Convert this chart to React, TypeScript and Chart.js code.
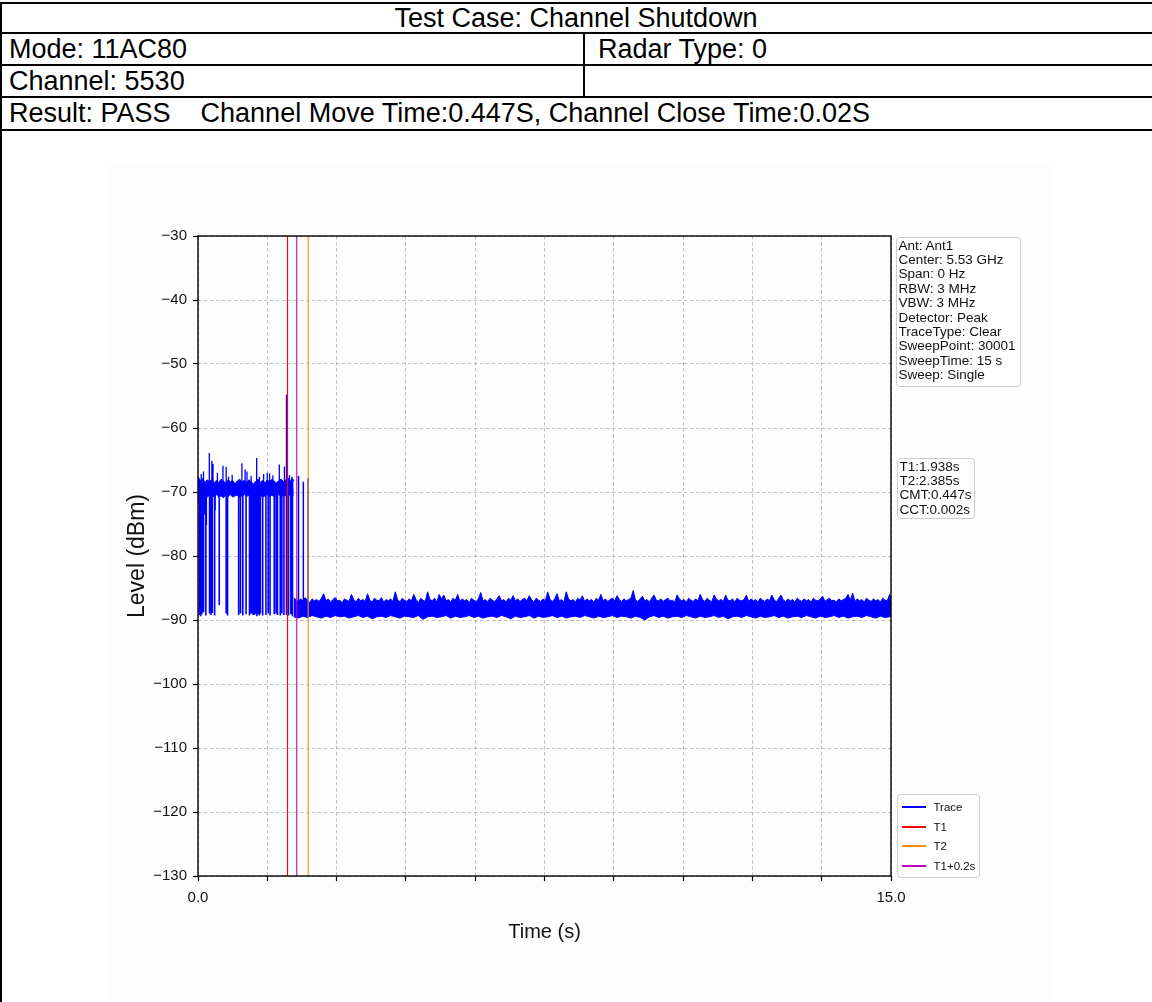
import React, { useEffect, useRef } from 'react';
import { Chart, registerables } from 'chart.js';

Chart.register(...registerables);

// ---------- header table text ----------
const titleText = 'Test Case: Channel Shutdown';
const modeText = 'Mode: 11AC80';
const radarText = 'Radar Type: 0';
const channelText = 'Channel: 5530';
const resultText = 'Result: PASS    Channel Move Time:0.447S, Channel Close Time:0.02S';

// ---------- axes ----------
const X_MIN = 0;
const X_MAX = 15;
const X_STEP = 1.5;
const xLabelled = [0, 15];
const Y_MIN = -130;
const Y_MAX = -30;
const Y_STEP = 10;

// ---------- marker lines ----------
const markerNames = ['T1', 'T2', 'T1+0.2s'];
const markerTimes = [1.938, 2.385, 2.138];
const markerColors = ['#ff0000', '#ff8c00', '#c000c0'];

// ---------- trace: early (transmitting) band 0 .. 2.07 s ----------
const bandTimes = [
  0.0, 0.05, 0.1, 0.15, 0.2, 0.25, 0.3, 0.35, 0.4, 0.45, 0.5, 0.55, 0.6, 0.65, 0.7,
  0.75, 0.8, 0.85, 0.9, 0.95, 1.0, 1.05, 1.1, 1.15, 1.2, 1.25, 1.3, 1.35, 1.4, 1.45,
  1.5, 1.55, 1.6, 1.65, 1.7, 1.75, 1.8, 1.85, 1.9, 1.95, 2.0, 2.05, 2.07,
];
const bandUpper = [
  -67.6, -68.2, -67.9, -68.5, -68.1, -68.4, -68.0, -68.6, -68.2, -68.5, -68.0, -68.3, -68.6, -68.1, -68.4,
  -68.2, -68.7, -68.3, -68.0, -68.4, -68.2, -68.6, -68.1, -68.4, -68.8, -68.3, -68.0, -68.5, -68.2, -68.6,
  -68.1, -68.4, -68.0, -68.3, -68.6, -68.2, -68.0, -68.4, -68.1, -67.8, -68.2, -67.9, -68.3,
];
const bandLower = [
  -71.8, -70.9, -71.2, -70.6, -70.8, -70.5, -70.9, -70.6, -70.4, -70.8, -70.6, -70.9, -70.5, -70.7, -70.4,
  -70.8, -70.6, -70.5, -70.9, -70.6, -70.4, -70.7, -70.5, -70.8, -70.6, -70.4, -70.7, -70.5, -70.8, -70.6,
  -70.4, -70.7, -70.5, -70.8, -70.6, -70.4, -70.7, -70.5, -70.6, -70.3, -70.6, -70.4, -70.5,
];

// dropouts from the band down to the noise floor
const DROP_BASE = -69.5;
const dropTimes = [
  0.03, 0.057, 0.086, 0.12, 0.15, 0.17, 0.18, 0.25, 0.28, 0.31, 0.36, 0.37, 0.46, 0.61, 0.64,
  0.88, 0.92, 0.97, 1.04, 1.115, 1.13, 1.16, 1.19, 1.21, 1.24, 1.275, 1.31, 1.33, 1.35, 1.4,
  1.47, 1.52, 1.56, 1.65, 1.69, 1.72, 1.78, 1.815, 1.86, 1.915, 1.96, 2.01, 2.045,
];
const dropLevels = [
  -89.2, -89.4, -89.1, -88.8, -73.5, -89.3, -75.2, -89.0, -89.2, -88.9, -89.3, -72.8, -87.7, -89.0, -89.3,
  -89.2, -89.0, -89.3, -89.1, -89.3, -89.0, -89.0, -89.2, -89.2, -89.1, -89.4, -89.1, -89.3, -89.0, -89.3,
  -89.2, -89.0, -89.3, -89.1, -89.0, -89.2, -89.3, -89.0, -89.2, -89.2, -89.3, -89.1, -89.4,
];

// peaks above the band
const PEAK_BASE = -69.0;
const peakTimes = [
  0.07, 0.12, 0.245, 0.3, 0.325, 0.42, 0.54, 0.61, 0.66, 0.74, 0.95, 1.02, 1.06, 1.15, 1.27,
  1.33, 1.42, 1.5, 1.55, 1.62, 1.76, 1.87, 1.915, 1.98, 2.03,
];
const peakLevels = [
  -67.2, -66.8, -63.9, -65.1, -65.6, -67.0, -65.9, -66.1, -67.6, -67.3, -65.5, -66.5, -66.8, -67.5, -64.7,
  -67.6, -67.2, -67.0, -67.1, -67.4, -65.7, -66.0, -54.8, -67.4, -67.6,
];

// bursts rising from the floor right after the move
const BURST_BASE = -88.0;
const burstTimes = [2.175, 2.28, 2.385];
const burstLevels = [-67.5, -68.4, -67.8];

// ---------- trace: noise floor 2.07 .. 15 s ----------
const FLOOR_START = 2.07;
const FLOOR_UPPER_STEP = 0.05;
const FLOOR_LOWER_STEP = 0.1;
const floorUpper = [
  -86.6, -86.8, -87.2, -86.7, -87.0, -86.5, -86.9, -87.3, -86.7, -87.0,
  -86.8, -87.1, -86.6, -85.9, -87.0, -86.7, -87.2, -86.8, -86.5, -87.0,
  -86.9, -87.3, -86.7, -86.9, -87.1, -86.0, -86.8, -87.2, -86.6, -87.0,
  -86.8, -87.1, -85.9, -86.9, -87.2, -86.6, -86.9, -87.0, -86.5, -87.2,
  -86.8, -87.0, -86.7, -87.1, -85.6, -86.8, -87.2, -86.6, -86.9, -87.1,
  -86.7, -87.0, -86.0, -86.8, -87.3, -86.6, -86.9, -87.1, -85.6, -86.8,
  -87.0, -86.6, -87.2, -86.0, -86.7, -86.1, -87.0, -86.8, -87.2, -86.6,
  -86.9, -86.0, -87.1, -86.7, -87.0, -86.8, -87.3, -86.6, -86.9, -87.1,
  -86.7, -85.7, -87.0, -86.8, -87.2, -86.6, -86.9, -87.1, -86.7, -86.2,
  -87.0, -86.8, -87.2, -86.6, -86.9, -86.2, -87.0, -86.7, -87.1, -86.8,
  -86.6, -87.0, -86.2, -86.8, -87.2, -86.6, -86.9, -87.1, -86.7, -87.0,
  -85.6, -86.8, -87.1, -86.7, -85.9, -87.0, -86.8, -87.2, -85.6, -86.7,
  -87.0, -86.8, -87.2, -86.6, -86.9, -86.2, -87.1, -86.7, -87.0, -86.8,
  -87.2, -86.6, -86.9, -86.0, -87.0, -86.7, -87.1, -86.8, -86.6, -87.0,
  -86.2, -86.8, -87.1, -86.7, -87.0, -86.8, -86.6, -85.4, -86.9, -87.1,
  -86.7, -86.3, -87.0, -86.8, -87.2, -86.6, -86.1, -86.9, -87.0, -86.7,
  -87.1, -86.8, -86.6, -87.0, -86.9, -87.2, -86.1, -86.7, -87.0, -86.8,
  -87.2, -86.6, -86.9, -87.1, -86.7, -87.0, -86.0, -86.8, -87.1, -86.6,
  -86.9, -87.2, -86.1, -86.7, -87.0, -86.8, -87.1, -86.1, -86.9, -87.0,
  -86.7, -87.2, -86.6, -86.9, -87.0, -86.8, -86.1, -87.1, -86.7, -87.0,
  -86.8, -87.2, -86.6, -86.9, -87.1, -86.7, -87.0, -86.1, -86.8, -87.2,
  -86.6, -86.1, -86.9, -87.1, -86.7, -87.0, -86.8, -87.2, -86.6, -86.9,
  -87.1, -86.7, -87.0, -86.8, -87.2, -86.6, -86.9, -87.0, -86.7, -86.3,
  -87.1, -86.8, -86.6, -87.0, -86.9, -87.2, -86.7, -87.0, -86.8, -86.6,
  -86.0, -86.9, -85.8, -87.1, -86.7, -87.0, -86.8, -87.2, -86.6, -86.9,
  -87.1, -86.7, -87.0, -86.8, -87.2, -86.6, -86.9, -87.0, -86.0, -86.8,
];
const floorLower = [
  -89.5, -89.7, -89.4, -89.6, -89.3, -89.5, -89.7, -89.4, -89.6, -89.3,
  -89.5, -89.4, -89.7, -89.5, -89.3, -89.6, -89.4, -89.8, -89.5, -89.4,
  -89.6, -89.3, -89.5, -89.7, -89.4, -89.5, -89.6, -89.3, -89.9, -89.5,
  -89.4, -89.6, -89.5, -89.3, -89.7, -89.4, -89.6, -89.5, -89.3, -89.6,
  -89.4, -89.7, -89.5, -89.4, -89.6, -89.3, -89.5, -89.8, -89.4, -89.6,
  -89.5, -89.3, -89.7, -89.4, -89.6, -89.5, -89.3, -89.6, -89.4, -89.7,
  -89.5, -89.4, -89.6, -89.3, -89.5, -89.7, -89.4, -89.6, -89.5, -89.3,
  -89.6, -89.4, -89.5, -89.7, -89.4, -89.6, -90.0, -89.5, -89.3, -89.6,
  -89.4, -89.7, -89.5, -89.4, -89.6, -89.3, -89.5, -89.7, -89.4, -89.6,
  -89.5, -89.3, -89.6, -89.4, -89.8, -89.5, -89.4, -89.6, -89.3, -89.5,
  -89.7, -89.4, -89.6, -89.5, -89.3, -89.6, -89.4, -89.7, -89.5, -89.4,
  -89.6, -89.3, -89.5, -89.7, -89.4, -89.6, -89.5, -89.3, -89.6, -89.4,
  -89.7, -89.5, -89.4, -89.6, -89.3, -89.5, -89.7, -89.4, -89.6, -89.5, -89.4,
];

// ---------- side boxes ----------
const paramLines = [
  'Ant: Ant1', 'Center: 5.53 GHz', 'Span: 0 Hz', 'RBW: 3 MHz', 'VBW: 3 MHz',
  'Detector: Peak', 'TraceType: Clear', 'SweepPoint: 30001', 'SweepTime: 15 s', 'Sweep: Single',
];
const timeLines = ['T1:1.938s', 'T2:2.385s', 'CMT:0.447s', 'CCT:0.002s'];
const legendNames = ['Trace', ...markerNames];
const TRACE_COLOR = '#0000ff';
const legendColors = [TRACE_COLOR, ...markerColors];

const FONT = "'Liberation Sans', Arial, Helvetica, sans-serif";

type Pt = { x: number; y: number | null };

function pairs(times: number[], values: number[]): Pt[] {
  return times.map((t, i) => ({ x: t, y: values[i] }));
}
function stepped(start: number, step: number, values: number[]): Pt[] {
  return values.map((v, i) => ({ x: +(start + i * step).toFixed(3), y: v }));
}
function strokes(times: number[], base: number, tops: number[]): Pt[] {
  const out: Pt[] = [];
  times.forEach((t, i) => {
    out.push({ x: t, y: base });
    out.push({ x: t, y: tops[i] });
    out.push({ x: t, y: null });
  });
  return out;
}

const framePlugin = {
  id: 'frame',
  afterDatasetsDraw(chart: any) {
    const { ctx, chartArea } = chart;
    const { left, top, right, bottom } = chartArea;
    ctx.save();
    ctx.strokeStyle = '#000';
    ctx.lineWidth = 1.4;
    ctx.strokeRect(left, top, right - left, bottom - top);
    ctx.restore();
  },
};

function TraceChart() {
  const ref = useRef<HTMLCanvasElement | null>(null);
  useEffect(() => {
    if (!ref.current) return;
    const line = (extra: any) => ({
      type: 'line',
      pointRadius: 0,
      pointHoverRadius: 0,
      tension: 0,
      fill: false,
      spanGaps: false,
      ...extra,
    });
    const datasets: any[] = [
      ...markerNames.map((n, i) =>
        line({
          label: n,
          data: [
            { x: markerTimes[i], y: Y_MAX },
            { x: markerTimes[i], y: Y_MIN },
          ],
          borderColor: markerColors[i],
          borderWidth: 1.1,
        })
      ),
      line({ label: 'burst', data: strokes(burstTimes, BURST_BASE, burstLevels), borderColor: TRACE_COLOR, borderWidth: 1.5 }),
      line({ label: 'peak', data: strokes(peakTimes, PEAK_BASE, peakLevels), borderColor: TRACE_COLOR, borderWidth: 1.3 }),
      line({ label: 'drop', data: strokes(dropTimes, DROP_BASE, dropLevels), borderColor: TRACE_COLOR, borderWidth: 1.6 }),
      line({ label: 'bandUpper', data: pairs(bandTimes, bandUpper), borderColor: TRACE_COLOR, borderWidth: 1 }),
      line({ label: 'bandLower', data: pairs(bandTimes, bandLower), borderColor: TRACE_COLOR, borderWidth: 1, fill: '-1', backgroundColor: TRACE_COLOR }),
      line({ label: 'floorUpper', data: stepped(FLOOR_START, FLOOR_UPPER_STEP, floorUpper), borderColor: TRACE_COLOR, borderWidth: 1 }),
      line({ label: 'floorLower', data: stepped(FLOOR_START, FLOOR_LOWER_STEP, floorLower), borderColor: TRACE_COLOR, borderWidth: 1, fill: '-1', backgroundColor: TRACE_COLOR }),
    ];
    const gridCommon = {
      color: '#b0b0b0',
      lineWidth: 0.8,
      tickColor: '#000',
      tickLength: 5,
      tickWidth: 1.2,
    };
    const chart = new Chart(ref.current, {
      type: 'line',
      data: { datasets },
      plugins: [framePlugin],
      options: {
        animation: false,
        responsive: false,
        devicePixelRatio: 1,
        events: [],
        layout: { padding: { top: 86, right: 159, bottom: 0, left: 0 } },
        font: { family: FONT },
        plugins: {
          legend: { display: false },
          tooltip: { enabled: false },
        },
        scales: {
          x: {
            type: 'linear',
            min: X_MIN,
            max: X_MAX,
            ticks: {
              stepSize: X_STEP,
              autoSkip: false,
              maxRotation: 0,
              padding: 8,
              color: '#111',
              font: { family: FONT, size: 15 },
              callback: (v: any) => (xLabelled.includes(Number(v)) ? Number(v).toFixed(1) : ''),
            },
            grid: gridCommon,
            border: { display: false, dash: [3.5, 2.5] },
            title: {
              display: true,
              text: 'Time (s)',
              color: '#111',
              font: { family: FONT, size: 20 },
              padding: { top: 0, bottom: 58 },
            },
            afterFit: (s: any) => {
              s.height = 126;
            },
          },
          y: {
            type: 'linear',
            min: Y_MIN,
            max: Y_MAX,
            ticks: {
              stepSize: Y_STEP,
              padding: 6,
              color: '#111',
              font: { family: FONT, size: 15 },
              callback: (v: any) => String(v).replace('-', '\u2212'),
            },
            grid: gridCommon,
            border: { display: false, dash: [3.5, 2.5] },
            title: {
              display: true,
              text: 'Level (dBm)',
              color: '#111',
              font: { family: FONT, size: 23 },
              padding: { top: 14, bottom: 0 },
            },
            afterFit: (s: any) => {
              s.width = 88;
            },
          },
        },
      } as any,
    });
    return () => chart.destroy();
  }, []);
  return (
    <canvas
      ref={ref}
      width={940}
      height={852}
      style={{ position: 'absolute', left: 110, top: 150, width: 940, height: 852, display: 'block' }}
    />
  );
}

const hLine = (top: number): React.CSSProperties => ({
  position: 'absolute', left: 0, top, width: 1152, height: 2, background: '#000',
});
const cellText = (left: number, top: number, height: number, extra: React.CSSProperties = {}): React.CSSProperties => ({
  position: 'absolute', left, top, height, display: 'flex', alignItems: 'center',
  fontSize: 27, color: '#000', whiteSpace: 'pre', ...extra,
});
const boxStyle = (left: number, top: number, width: number, height: number): React.CSSProperties => ({
  position: 'absolute', left, top, width, height, boxSizing: 'border-box',
  border: '1px solid #cccccc', borderRadius: 4, background: 'rgba(255,255,255,0.8)',
});

export default function App() {
  return (
    <div style={{ position: 'absolute', left: 0, top: 0, width: 1152, height: 1002, overflow: 'hidden', background: '#fff', fontFamily: FONT }}>
      <div style={{ position: 'absolute', left: 110, top: 163, width: 941, height: 900, background: '#fdfdfd' }} />
      <TraceChart />
      {/* table lines */}
      <div style={hLine(2)} />
      <div style={hLine(32)} />
      <div style={hLine(64)} />
      <div style={hLine(96)} />
      <div style={hLine(129)} />
      <div style={{ position: 'absolute', left: 0, top: 2, width: 2, height: 1000, background: '#000' }} />
      <div style={{ position: 'absolute', left: 583, top: 32, width: 2, height: 66, background: '#000' }} />
      {/* table text */}
      <div style={cellText(0, 4, 28, { width: 1152, justifyContent: 'center' })}>{titleText}</div>
      <div style={cellText(9, 34, 30)}>{modeText}</div>
      <div style={cellText(598, 34, 30)}>{radarText}</div>
      <div style={cellText(9, 66, 30)}>{channelText}</div>
      <div style={cellText(9, 98, 31)}>{resultText}</div>
      {/* parameter box */}
      <div style={boxStyle(895.5, 236.5, 125, 150)}>
        <div style={{ paddingLeft: 2, paddingTop: 1, fontSize: 13.5, lineHeight: '14.4px', color: '#111' }}>
          {paramLines.map((l) => (
            <div key={l} style={{ whiteSpace: 'pre' }}>{l}</div>
          ))}
        </div>
      </div>
      {/* time box */}
      <div style={boxStyle(896.5, 457.5, 78, 61)}>
        <div style={{ paddingLeft: 2, paddingTop: 1, fontSize: 13.5, lineHeight: '14.4px', color: '#111' }}>
          {timeLines.map((l) => (
            <div key={l} style={{ whiteSpace: 'pre' }}>{l}</div>
          ))}
        </div>
      </div>
      {/* legend */}
      <div style={boxStyle(896.5, 794, 83, 83.5)}>
        {legendNames.map((n, i) => (
          <div key={n} style={{ position: 'absolute', left: 0, top: 2 + i * 19.8, height: 19.8, display: 'flex', alignItems: 'center' }}>
            <div style={{ marginLeft: 4, width: 24, height: 2, background: legendColors[i] }} />
            <div style={{ marginLeft: 8, fontSize: 11.5, color: '#111', whiteSpace: 'pre' }}>{n}</div>
          </div>
        ))}
      </div>
    </div>
  );
}
